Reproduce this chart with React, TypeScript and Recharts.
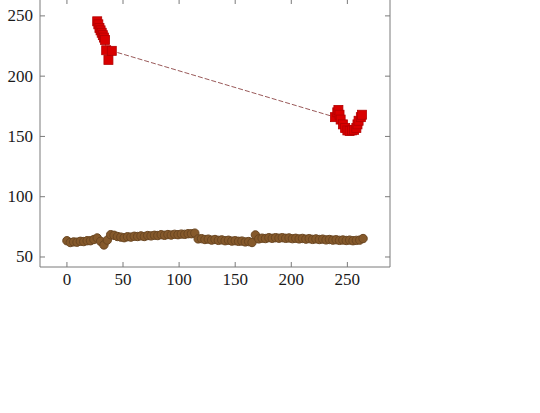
import { LineChart, Line, XAxis, YAxis } from "recharts";

// brown series (lower band)
const brownX = [
  0, 3, 6, 9, 12, 15, 18, 21, 24, 27, 30, 33, 36, 39, 42, 45, 48, 51, 54, 57,
  60, 63, 66, 69, 72, 75, 78, 81, 84, 87, 90, 93, 96, 99, 102, 105, 108, 111, 114, 117,
  120, 123, 126, 129, 132, 135, 138, 141, 144, 147, 150, 153, 156, 159, 162, 165, 168, 171, 174, 177,
  180, 183, 186, 189, 192, 195, 198, 201, 204, 207, 210, 213, 216, 219, 222, 225, 228, 231, 234, 237,
  240, 243, 246, 249, 252, 255, 258, 261, 264,
];
const brownY = [
  63.5, 62, 62.5, 62.3, 63, 62.8, 63.5, 63.5, 64.5, 65.8, 63, 60, 64, 68.5, 68, 67, 66.5, 66, 66.8, 66.5,
  67.2, 67, 67.5, 67, 67.8, 67.5, 68, 67.8, 68.5, 68, 68.6, 68.2, 68.8, 68.5, 69, 68.8, 69.3, 69.3, 69.8, 65,
  65.2, 64.5, 64.8, 64, 64.5, 63.8, 64.2, 63.5, 63.9, 63.2, 63.5, 63, 63.2, 62.5, 62.8, 62, 68.3, 65, 65.6, 65.3,
  66, 65.5, 66, 65.6, 66, 65.5, 65.8, 65.2, 65.5, 65, 65.4, 64.8, 65.2, 64.6, 65, 64.5, 64.8, 64.2, 64.5, 64,
  64.3, 63.8, 64.1, 63.7, 64, 63.5, 63.8, 64, 65.3,
];

// red series (two clusters joined by a dashed segment)
const redX = [27, 28, 29, 30, 31, 32, 33, 34, 35, 37, 40, 239, 241, 242, 243, 244, 246, 248, 250, 252, 254, 256, 258, 259, 260, 262, 263];
const redY = [245.5, 243, 240, 238, 236, 234, 232, 230, 221.5, 213.5, 221, 166, 170, 172, 168, 164, 160, 157, 155, 154.5, 155, 155.5, 157, 160, 163, 166, 168];

const xTicks = [0, 50, 100, 150, 200, 250];
const yTicks = [50, 100, 150, 200, 250];

const brownData = brownX.map((x, i) => ({ x, y: brownY[i] }));
const redData = redX.map((x, i) => ({ x, y: redY[i] }));

const axisColor = "#7a7a7a";
const font = { fontFamily: "'Liberation Serif', serif", fontSize: 17, fill: "#1a1a1a" };

const LeftTick = (p: any) => {
  const ax = p.x + 7;
  return (
    <g>
      <line x1={ax} x2={ax + 5} y1={p.y} y2={p.y} stroke={axisColor} />
      <text x={p.x} y={p.y} textAnchor="end" dominantBaseline="central" {...font}>
        {p.payload.value}
      </text>
    </g>
  );
};

const BottomTick = (p: any) => {
  const ay = p.y - 7;
  return (
    <g>
      <line x1={p.x} x2={p.x} y1={ay} y2={ay - 5} stroke={axisColor} />
      <text x={p.x} y={ay + 18} textAnchor="middle" {...font}>
        {p.payload.value}
      </text>
    </g>
  );
};

const TopTick = (p: any) => (
  <line x1={p.x} x2={p.x} y1={p.y} y2={p.y + 5} stroke={axisColor} />
);

const RightTick = (p: any) => (
  <line x1={p.x} x2={p.x - 5} y1={p.y} y2={p.y} stroke={axisColor} />
);

const RedSquare = (p: any) => {
  if (p.cx == null || p.cy == null) return null;
  return (
    <rect key={p.index} x={p.cx - 4.5} y={p.cy - 4.5} width={9} height={9} fill="#d90000" stroke="#b30000" strokeWidth={0.8} />
  );
};

export default function App() {
  return (
    <div style={{ position: "absolute", left: 0, top: -20, background: "#fff" }}>
      <LineChart width={540} height={330} margin={{ top: 18, right: 149, bottom: 18, left: 0 }}>
        <XAxis
          xAxisId="b"
          dataKey="x"
          type="number"
          domain={[-24, 288]}
          ticks={xTicks}
          interval={0}
          allowDataOverflow
          height={25}
          tickSize={0}
          tickMargin={7}
          tickLine={false}
          stroke={axisColor}
          tick={BottomTick}
        />
        <XAxis
          xAxisId="t"
          orientation="top"
          dataKey="x"
          type="number"
          domain={[-24, 288]}
          ticks={xTicks}
          interval={0}
          allowDataOverflow
          height={1}
          tickSize={0}
          tickMargin={0}
          tickLine={false}
          stroke={axisColor}
          tick={TopTick}
        />
        <YAxis
          yAxisId="l"
          type="number"
          domain={[41.7, 264]}
          ticks={yTicks}
          interval={0}
          allowDataOverflow
          width={40}
          tickSize={0}
          tickMargin={7}
          tickLine={false}
          stroke={axisColor}
          tick={LeftTick}
        />
        <YAxis
          yAxisId="r"
          orientation="right"
          type="number"
          domain={[41.7, 264]}
          ticks={yTicks}
          interval={0}
          allowDataOverflow
          width={1}
          tickSize={0}
          tickMargin={0}
          tickLine={false}
          stroke={axisColor}
          tick={RightTick}
        />
        <Line
          xAxisId="b"
          yAxisId="l"
          data={brownData}
          dataKey="y"
          stroke="#7a5226"
          strokeWidth={1}
          dot={{ r: 4.2, fill: "#85592b", stroke: "#6a4621", strokeWidth: 1 }}
          isAnimationActive={false}
        />
        <Line
          xAxisId="b"
          yAxisId="l"
          data={redData}
          dataKey="y"
          stroke="#9a5a5a"
          strokeWidth={1}
          strokeDasharray="5 2"
          dot={RedSquare}
          isAnimationActive={false}
        />
        {/* mirrored axes bound via hidden series so their scales exist */}
        <Line xAxisId="t" yAxisId="r" data={redData} dataKey="y" stroke="none" dot={false} isAnimationActive={false} />
      </LineChart>
    </div>
  );
}
